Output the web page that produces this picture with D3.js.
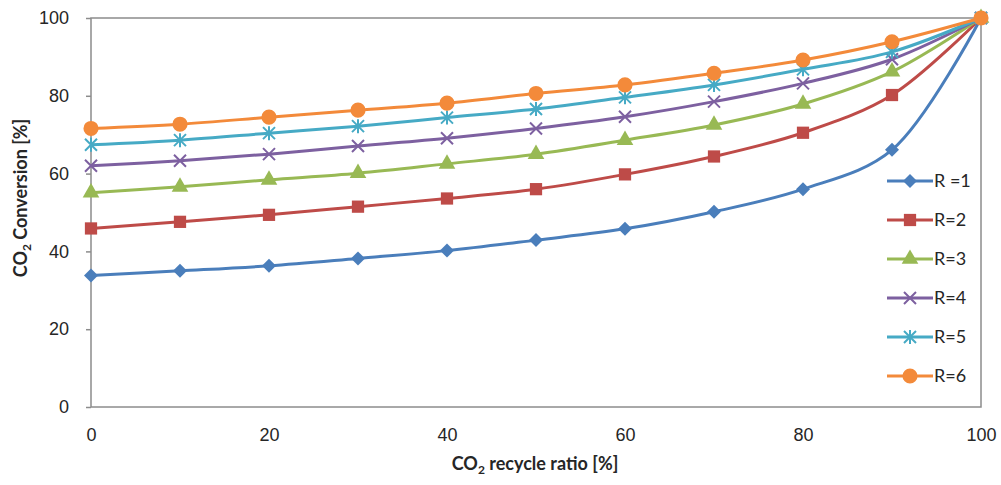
<!DOCTYPE html>
<html>
<head>
<meta charset="utf-8">
<script src="https://cdn.jsdelivr.net/npm/d3@7"></script>
<style>
  body { margin: 0; background: #fff; }
  svg { font-family: Lato, "Liberation Sans", sans-serif; }
  .tick-label { font-size: 18px; fill: #262626; }
  .title { font-size: 18px; font-weight: bold; fill: #262626; }
  .legend-label { font-size: 18px; fill: #262626; }
</style>
</head>
<body>
<svg id="chart" width="1001" height="485"></svg>
<script>
// recycle ratio values (x)
const recycle = [0, 10, 20, 30, 40, 50, 60, 70, 80, 90, 100];

// CO2 conversion for each R
const r1 = [33.8, 35.0, 36.3, 38.2, 40.2, 42.9, 45.8, 50.2, 56.0, 66.1, 100];
const r2 = [45.9, 47.6, 49.4, 51.5, 53.6, 56.0, 59.8, 64.4, 70.5, 80.2, 100];
const r3 = [55.1, 56.6, 58.4, 60.1, 62.5, 65.0, 68.6, 72.5, 77.9, 86.2, 100];
const r4 = [62.0, 63.3, 65.0, 67.1, 69.1, 71.6, 74.6, 78.5, 83.2, 89.4, 100];
const r5 = [67.4, 68.6, 70.4, 72.2, 74.4, 76.6, 79.6, 82.8, 86.8, 91.3, 100];
const r6 = [71.6, 72.7, 74.5, 76.3, 78.1, 80.6, 82.8, 85.8, 89.2, 93.9, 100];

const seriesNames = ["R =1", "R=2", "R=3", "R=4", "R=5", "R=6"];
const xTicks = [0, 20, 40, 60, 80, 100];
const yTicks = [0, 20, 40, 60, 80, 100];

const colors = ["#4A7EBB", "#BE4B48", "#98B954", "#7D60A0", "#46AAC5", "#F38A3A"];
const symbols = ["diamond", "square", "triangle", "x", "asterisk", "circle"];

const series = [r1, r2, r3, r4, r5, r6].map((vals, i) => ({
    name: seriesNames[i],
    color: colors[i],
    symbol: symbols[i],
    points: vals.map((v, j) => ({ x: recycle[j], y: v }))
}));

const svg = d3.select("#chart");
const plotL = 91, plotR = 981, plotT = 18, plotB = 407;

const x = d3.scaleLinear().domain([0, 100]).range([plotL, plotR]);
const y = d3.scaleLinear().domain([0, 100]).range([plotB, plotT]);

// ── Plot frame ──
svg.append("rect")
    .attr("x", plotL).attr("y", plotT)
    .attr("width", plotR - plotL).attr("height", plotB - plotT)
    .attr("fill", "none")
    .attr("stroke", "#8c8c8c")
    .attr("stroke-width", 1.5);

// ── Y axis ──
const yAxis = svg.append("g")
    .attr("transform", `translate(${plotL},0)`)
    .call(d3.axisLeft(y).tickValues(yTicks).tickSize(5).tickPadding(17));
yAxis.select(".domain").remove();
yAxis.selectAll(".tick line").attr("stroke", "#8c8c8c").attr("stroke-width", 1.5);
yAxis.selectAll(".tick text").attr("class", "tick-label").attr("font-family", null).attr("font-size", null);

// ── X axis ──
const xAxis = svg.append("g")
    .attr("transform", `translate(0,${plotB})`)
    .call(d3.axisBottom(x).tickValues(xTicks).tickSize(0).tickPadding(21));
xAxis.select(".domain").remove();
xAxis.selectAll(".tick text").attr("class", "tick-label").attr("font-family", null).attr("font-size", null);

// ── Axis titles ──
const xt = svg.append("text")
    .attr("class", "title")
    .attr("x", 535)
    .attr("y", 470)
    .attr("text-anchor", "middle");
xt.append("tspan").text("CO");
xt.append("tspan").attr("dy", 4).attr("font-size", 12).text("2");
xt.append("tspan").attr("dy", -4).text(" recycle ratio [%]");

const yt = svg.append("text")
    .attr("class", "title")
    .attr("transform", `translate(27,198) rotate(-90)`)
    .attr("text-anchor", "middle");
yt.append("tspan").text("CO");
yt.append("tspan").attr("dy", 4).attr("font-size", 12).text("2");
yt.append("tspan").attr("dy", -4).text(" Conversion [%]");

// ── Markers ──
function marker(sel, symbol, color) {
    if (symbol === "x" || symbol === "asterisk") {
        const s = 6;
        let path = `M${-s},${-s}L${s},${s}M${-s},${s}L${s},${-s}`;
        if (symbol === "asterisk") path += `M0,${-s - 1}L0,${s + 1}`;
        sel.append("path").attr("d", path)
            .attr("stroke", color).attr("stroke-width", 2).attr("fill", "none");
    } else if (symbol === "diamond") {
        sel.append("path")
            .attr("d", "M0,-7L7,0L0,7L-7,0Z")
            .attr("fill", color);
    } else {
        const type = {
            square: d3.symbolSquare,
            triangle: d3.symbolTriangle,
            circle: d3.symbolCircle
        }[symbol];
        const size = { square: 150, triangle: 120, circle: 180 }[symbol];
        sel.append("path")
            .attr("d", d3.symbol().type(type).size(size)())
            .attr("fill", color);
    }
}

const line = d3.line()
    .x(d => x(d.x))
    .y(d => y(d.y))
    .curve(d3.curveCatmullRom.alpha(0.5));

series.forEach(s => {
    const g = svg.append("g");
    g.append("path")
        .datum(s.points)
        .attr("d", line)
        .attr("fill", "none")
        .attr("stroke", s.color)
        .attr("stroke-width", 3);
    g.selectAll(".pt")
        .data(s.points)
        .enter().append("g")
        .attr("transform", d => `translate(${x(d.x)},${y(d.y)})`)
        .each(function () { marker(d3.select(this), s.symbol, s.color); });
});

// ── Legend ──
const legend = svg.append("g").attr("transform", "translate(887,181)");
series.forEach((s, i) => {
    const row = legend.append("g").attr("transform", `translate(0,${i * 39})`);
    row.append("line")
        .attr("x1", 0).attr("x2", 46)
        .attr("stroke", s.color).attr("stroke-width", 3);
    const m = row.append("g").attr("transform", "translate(23,0)");
    marker(m, s.symbol, s.color);
    row.append("text")
        .attr("class", "legend-label")
        .attr("x", 47)
        .attr("dy", "0.35em")
        .text(s.name);
});
</script>
</body>
</html>
